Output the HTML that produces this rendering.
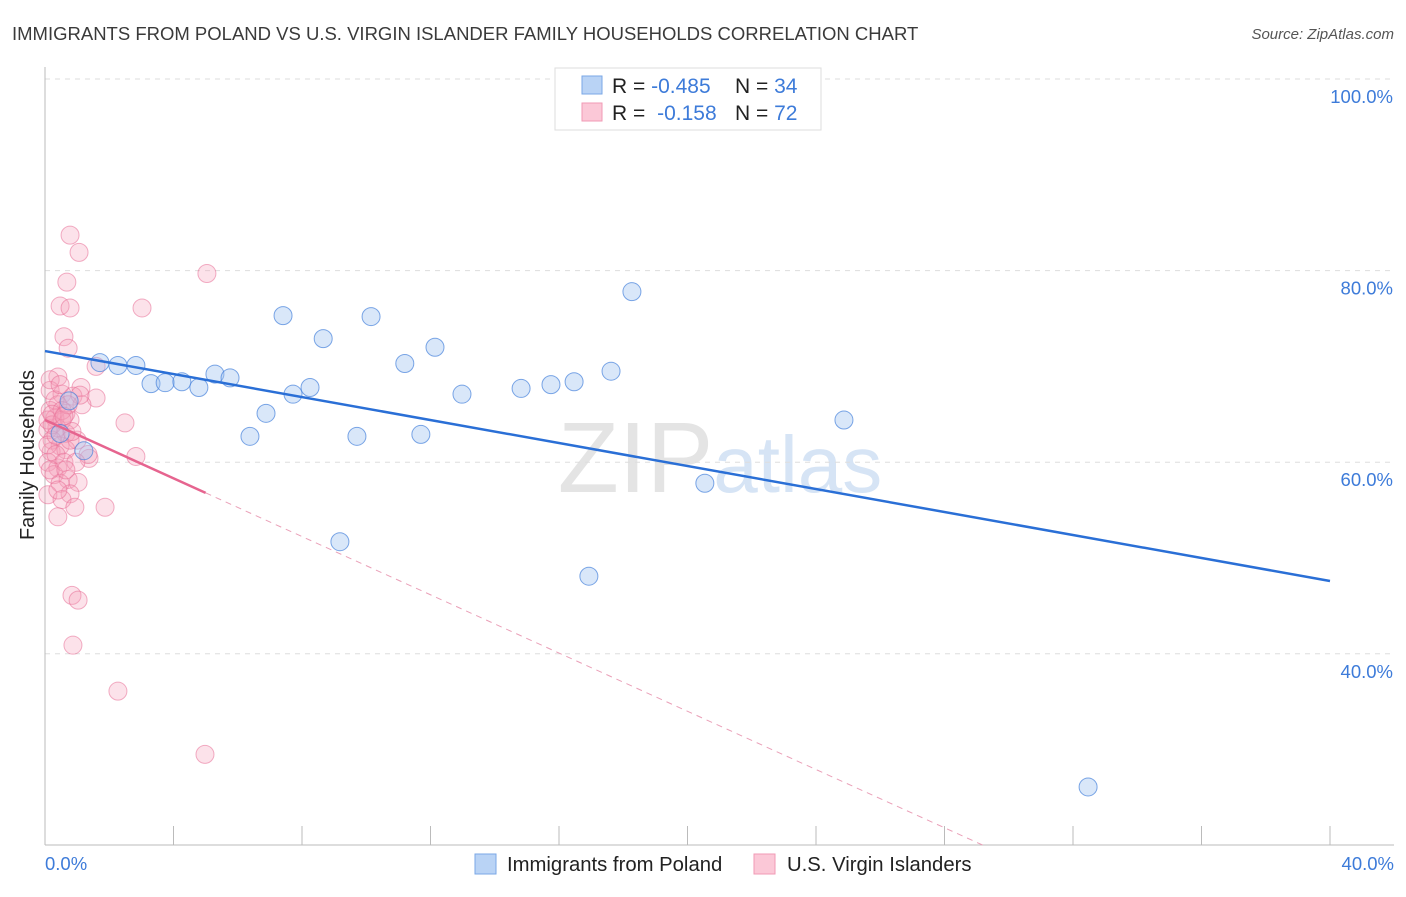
<!DOCTYPE html>
<html><head><meta charset="utf-8"><style>
body{margin:0;background:#fff;font-family:"Liberation Sans",sans-serif;}
svg text{font-family:"Liberation Sans",sans-serif;}
</style></head><body>
<svg id="chart" width="1406" height="892">
<text x="12" y="40" font-size="18.5" fill="#3a3a3a">IMMIGRANTS FROM POLAND VS U.S. VIRGIN ISLANDER FAMILY HOUSEHOLDS CORRELATION CHART</text>
<text x="1394" y="39" font-size="15" fill="#555" text-anchor="end" font-style="italic">Source: ZipAtlas.com</text>
<text x="720" y="492" font-size="100" fill="#e4e4e4" text-anchor="middle" font-family="Liberation Serif">ZIP<tspan fill="#d6e4f5" font-family="Liberation Sans" font-size="80">atlas</tspan></text>
<g id="grid"></g>
<g id="axes"></g>
<g id="marks"></g>
<text transform="translate(34,455) rotate(-90)" font-size="20" fill="#222" text-anchor="middle">Family Households</text>
<text x="45" y="870" font-size="18.5" fill="#3d7bd9">0.0%</text>
<text x="1394" y="870" font-size="18.5" fill="#3d7bd9" text-anchor="end">40.0%</text>
<g>
<rect x="555" y="68" width="266" height="62" fill="#fff" stroke="#ddd"/>
<rect x="582" y="76" width="20" height="18" fill="#b9d3f5" stroke="#7aa7e6"/>
<rect x="582" y="103" width="20" height="18" fill="#fbc8d7" stroke="#f09ab4"/>
<text x="612" y="93" font-size="21" fill="#222">R = <tspan fill="#3d7bd9">-0.485</tspan><tspan x="735">N = </tspan><tspan fill="#3d7bd9">34</tspan></text>
<text x="612" y="120" font-size="21" fill="#222">R = <tspan fill="#3d7bd9" dx="6">-0.158</tspan><tspan x="735">N = </tspan><tspan fill="#3d7bd9">72</tspan></text>
</g>
<g>
<rect x="475" y="854" width="21" height="20" fill="#b9d3f5" stroke="#7aa7e6"/>
<text x="507" y="871" font-size="20.3" fill="#222">Immigrants from Poland</text>
<rect x="754" y="854" width="21" height="20" fill="#fbc8d7" stroke="#f09ab4"/>
<text x="787" y="871" font-size="20.3" fill="#222">U.S. Virgin Islanders</text>
</g>
</svg>
<script>
const yTicks=[100,80,60,40];
const yTickLabels=["100.0%","80.0%","60.0%","40.0%"];
const xTicks=[0,4,8,12,16,20,24,28,32,36,40];
const polandX=[1.71,2.27,2.83,3.3,3.74,4.26,4.79,5.29,5.76,6.38,6.88,7.41,7.72,8.25,8.66,9.18,9.71,10.15,11.2,11.7,12.14,12.98,14.82,15.75,16.47,16.93,17.62,18.27,20.54,24.87,32.47,1.21,0.47,0.75];
const polandY=[70.4,70.1,70.1,68.2,68.3,68.4,67.8,69.2,68.8,62.7,65.1,75.3,67.1,67.8,72.9,51.7,62.7,75.2,70.3,62.9,72.0,67.1,67.7,68.1,68.4,48.1,69.5,77.8,57.8,64.4,26.1,61.2,63.0,66.4];
const viX=[0.78,1.06,5.04,0.68,0.47,0.78,3.02,0.59,0.72,1.59,0.40,1.12,0.16,0.53,0.87,1.59,1.15,0.40,0.16,0.65,0.31,2.49,0.78,0.37,0.09,0.65,0.22,1.0,0.47,0.19,0.65,1.37,2.83,0.09,0.40,0.28,0.72,1.03,0.47,0.09,0.78,0.53,0.93,1.87,0.40,0.84,1.03,0.87,2.27,4.98,1.34,0.31,0.53,0.09,0.22,0.53,0.78,0.09,0.34,0.59,0.96,0.16,0.40,0.65,1.09,0.16,0.47,0.72,0.22,0.59,0.34,0.84];
const viY=[83.7,81.9,79.7,78.8,76.3,76.1,76.1,73.1,71.9,70.0,68.9,67.8,67.5,67.1,66.9,66.7,66.0,66.0,65.4,65.1,64.6,64.1,64.4,63.6,63.4,63.0,62.3,62.3,61.7,61.1,61.3,60.4,60.6,60.0,59.4,58.7,58.2,57.9,57.8,56.6,56.7,56.1,55.3,55.3,54.3,46.1,45.6,40.9,36.1,29.5,60.8,66.5,65.4,64.4,63.9,64.4,62.3,61.8,60.8,60.0,60.0,59.2,57.1,59.2,67.0,68.6,68.1,66.0,65.0,64.8,62.8,63.2];
const polandTrend=[71.6,47.6];
const viTrend=[64.4,-1.52];
const X=p=>45+p*32.125, Y=v=>79+(100-v)*9.58;
const NS="http://www.w3.org/2000/svg";
function mk(t,a,parent){const e=document.createElementNS(NS,t);for(const k in a)e.setAttribute(k,a[k]);document.getElementById(parent).appendChild(e);return e;}
yTicks.forEach((t,i)=>{
 const l=mk('line',{x1:45,x2:1394,y1:Y(t),y2:Y(t),stroke:'#ddd','stroke-dasharray':'5,5'},'grid');
 
 
 const tx=mk('text',{x:1393,y:Y(t)+24,'font-size':18.5,fill:'#3d7bd9','text-anchor':'end'},'grid');
 tx.textContent=yTickLabels[i];
 
 
});
const ax=mk('line',{x1:45,x2:45,y1:67,y2:845,stroke:'#bbb'},'axes');


const bx=mk('line',{x1:45,x2:1394,y1:845,y2:845,stroke:'#bbb'},'axes');


xTicks.forEach(t=>{
 const l=mk('line',{x1:X(t),x2:X(t),y1:826,y2:845,stroke:'#bbb'},'axes');
 
 
});
viX.forEach((p,i)=>{
 const c=mk('circle',{cx:X(p),cy:Y(viY[i]),r:9,fill:'rgba(246,160,186,0.3)',stroke:'rgba(232,110,150,0.55)','stroke-width':1},'marks');
 
 
});
polandX.forEach((p,i)=>{
 const c=mk('circle',{cx:X(p),cy:Y(polandY[i]),r:9,fill:'rgba(160,195,240,0.4)',stroke:'rgba(70,130,220,0.7)','stroke-width':1},'marks');
 
 
});
const pl=mk('line',{x1:X(0),y1:Y(polandTrend[0]),x2:X(40),y2:Y(polandTrend[1]),stroke:'#2a6fd6','stroke-width':2.5},'marks');


const v1=mk('line',{x1:X(0),y1:Y(viTrend[0]),x2:X(5),y2:Y(viTrend[0]+5*viTrend[1]),stroke:'#e6648f','stroke-width':2.5},'marks');


const pend=(20-viTrend[0])/viTrend[1];
const v2=mk('line',{x1:X(5),y1:Y(viTrend[0]+5*viTrend[1]),x2:X(pend),y2:Y(20),stroke:'#eaa0b8','stroke-width':1,'stroke-dasharray':'6,5'},'marks');


</script>
</body></html>
